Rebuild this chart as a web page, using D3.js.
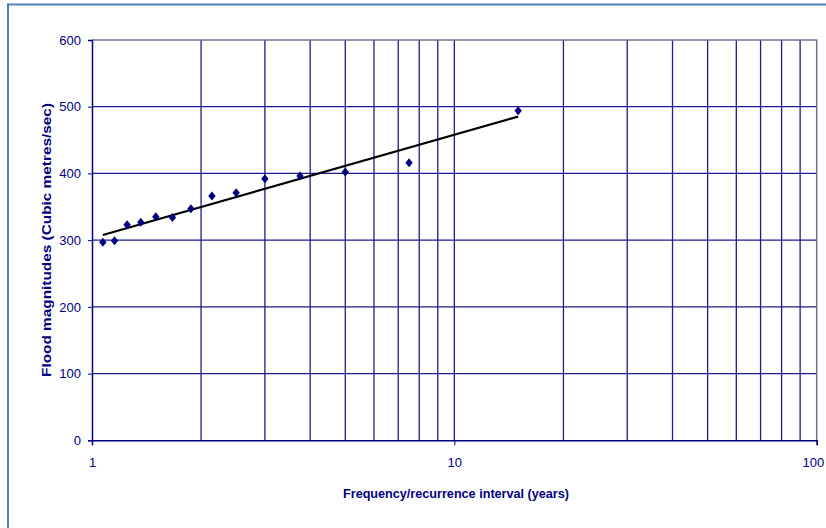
<!DOCTYPE html>
<html>
<head>
<meta charset="utf-8">
<script src="https://cdn.jsdelivr.net/npm/d3@7"></script>
<style>
  html, body { margin: 0; padding: 0; background: #fff; }
  svg { display: block; }
  text { font-family: "Liberation Sans", Arial, sans-serif; fill: #000080; }
</style>
</head>
<body>
<svg id="chart" width="826" height="528"></svg>
<script>
// Recurrence interval (years) for each ranked flood, and its magnitude
const recurrence = [15, 7.5, 5, 3.75, 3, 2.5, 2.1429, 1.875, 1.6667, 1.5, 1.3636, 1.25, 1.1538, 1.0714];
const magnitude  = [494, 416, 402, 396, 392, 371, 366, 347, 334, 335, 327, 323, 299, 297];

const yTicks = [0, 100, 200, 300, 400, 500, 600];
const xTickLabels = [1, 10, 100];
const xGrid = [2, 3, 4, 5, 6, 7, 8, 9, 10, 20, 30, 40, 50, 60, 70, 80, 90];

const svg = d3.select("#chart");
const plotLeft = 92, plotRight = 816.7, plotTop = 40, plotBottom = 440.3;
const labelFont = "'Liberation Sans', Arial, sans-serif";

const x = d3.scaleLog().domain([1, 100]).range([plotLeft, plotRight]);
const y = d3.scaleLinear().domain([0, 600]).range([plotBottom, plotTop]);

// outer frame (left and top edges only)
svg.append("line").attr("x1", 8).attr("x2", 8).attr("y1", 3.5).attr("y2", 528)
  .attr("stroke", "#4f81bd").attr("stroke-width", 2);
svg.append("line").attr("x1", 7).attr("x2", 826).attr("y1", 4.5).attr("y2", 4.5)
  .attr("stroke", "#4f81bd").attr("stroke-width", 2);

// gridlines
const grid = svg.append("g").attr("stroke", "#1c1c8e").attr("stroke-width", 1.3);
grid.selectAll("line.h").data(yTicks.filter(d => d > 0 && d < 600)).join("line")
  .attr("class", "h")
  .attr("x1", plotLeft).attr("x2", plotRight).attr("y1", d => y(d)).attr("y2", d => y(d));
grid.selectAll("line.v").data(xGrid).join("line")
  .attr("class", "v")
  .attr("x1", d => x(d)).attr("x2", d => x(d)).attr("y1", plotTop).attr("y2", plotBottom);

// plot border (top and right)
svg.append("path")
  .attr("d", `M${plotLeft},${plotTop}H${plotRight}V${plotBottom}`)
  .attr("fill", "none").attr("stroke", "#72728e").attr("stroke-width", 1.5);

// y axis
const yAxis = d3.axisLeft(y).tickValues(yTicks).tickSize(4).tickPadding(7).tickFormat(d3.format("d"));
const gy = svg.append("g").attr("transform", `translate(${plotLeft},0)`).call(yAxis);
gy.select(".domain").attr("stroke", "#000080").attr("stroke-width", 1.5);
gy.selectAll(".tick line").attr("stroke", "#000080");
gy.selectAll(".tick text").style("font-size", "13px").attr("fill", "#000080")
  .style("font-family", labelFont);

// x axis
const xAxis = d3.axisBottom(x).tickValues(xTickLabels).tickSize(5).tickPadding(12).tickFormat(d3.format("d"));
const gx = svg.append("g").attr("transform", `translate(0,${plotBottom})`).call(xAxis);
gx.select(".domain").attr("stroke", "#000080").attr("stroke-width", 1.5);
gx.selectAll(".tick line").attr("stroke", "#000080");
gx.selectAll(".tick text").style("font-size", "13px").attr("fill", "#000080")
  .style("font-family", labelFont);
// keep the last label inside the page edge
gx.selectAll(".tick text").filter(d => d === 100).attr("dx", "-0.3em");

// logarithmic trend line: least squares fit of magnitude against log10(recurrence)
const lx = recurrence.map(v => Math.log10(v));
const mx = d3.mean(lx), my = d3.mean(magnitude);
const slope = d3.sum(lx, (v, i) => (v - mx) * (magnitude[i] - my)) / d3.sum(lx, v => (v - mx) ** 2);
const intercept = my - slope * mx;
const [xmin, xmax] = d3.extent(recurrence);
svg.append("line")
  .attr("x1", x(xmin)).attr("y1", y(intercept + slope * Math.log10(xmin)))
  .attr("x2", x(xmax)).attr("y2", y(intercept + slope * Math.log10(xmax)))
  .attr("stroke", "#000").attr("stroke-width", 2.2);

// observed floods
const diamond = "M0,-4.5L3.7,0L0,4.5L-3.7,0Z";
svg.append("g").selectAll("path").data(recurrence).join("path")
  .attr("d", diamond)
  .attr("transform", (d, i) => `translate(${x(d)},${y(magnitude[i])})`)
  .attr("fill", "#000080");

// axis titles
svg.append("text")
  .attr("x", 456).attr("y", 498).attr("text-anchor", "middle")
  .attr("font-size", 13).attr("font-weight", "bold")
  .attr("textLength", 226).attr("lengthAdjust", "spacingAndGlyphs")
  .text("Frequency/recurrence interval (years)");
svg.append("text")
  .attr("transform", "translate(51,240) rotate(-90)").attr("text-anchor", "middle")
  .attr("font-size", 13).attr("font-weight", "bold")
  .attr("textLength", 274).attr("lengthAdjust", "spacingAndGlyphs")
  .text("Flood magnitudes (Cubic metres/sec)");
</script>
</body>
</html>
